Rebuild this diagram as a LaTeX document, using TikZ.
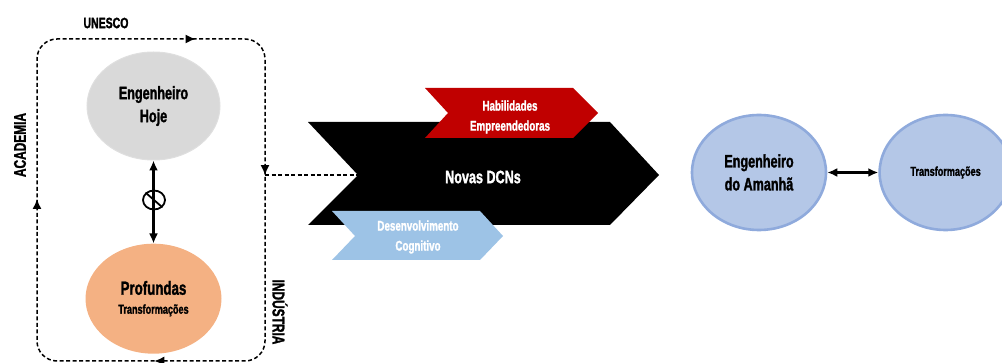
\documentclass[tikz,border=0pt]{standalone}
\usepackage{fontspec}
\newfontfamily\cond[FakeStretch=0.70,FakeBold=1.5]{Liberation Sans Bold}
\usepackage{tikz}
\usetikzlibrary{arrows.meta,positioning,shapes.geometric,decorations.markings}

\definecolor{hojegray}{HTML}{D9D9D9}
\definecolor{peach}{HTML}{F4B183}
\definecolor{skyblue}{HTML}{B4C7E7}
\definecolor{skyedge}{HTML}{8FAADC}
\definecolor{darkred}{HTML}{C00000}
\definecolor{paleblue}{HTML}{9DC3E6}

\tikzset{
  bubble/.style={ellipse,inner sep=0pt,align=center,font=\cond\fontsize{18}{23}\selectfont},
  lbl/.style={inner sep=0pt,font=\cond\fontsize{#1}{#1}\selectfont},
  chevtxt/.style={inner sep=0pt,align=center,text=white,font=\cond\fontsize{#1}{20}\selectfont},
  dashline/.style={line width=1.5pt,dash pattern=on 4pt off 2.5pt},
  twoway/.style={{Latex[length=10pt,width=9pt]}-{Latex[length=10pt,width=9pt]},line width=2.4pt}
}

\begin{document}
\begin{tikzpicture}[x=1pt,y=-1pt]
\useasboundingbox (0,0) rectangle (1002,363);

% left cycle
\draw[dashline,rounded corners=20pt,postaction={decorate},
  decoration={markings,
    mark=at position 31pt with {\arrow{Latex[length=10pt,width=9pt]}},
    mark=at position 341pt with {\arrow{Latex[length=10pt,width=9pt]}},
    mark=at position 538pt with {\arrow{Latex[length=10pt,width=9pt]}},
    mark=at position 826pt with {\arrow{Latex[length=10pt,width=9pt]}}}]
  (37,250) -- (37,39) -- (265,39) -- (265,361) -- (37,361) -- cycle;
\coordinate (rectR) at (265,175);

\node[lbl=15] (unesco) at (106,23) {UNESCO};
\node[lbl=17,rotate=90] (acad) at (20,145) {ACADEMIA};
\node[lbl=17,rotate=-90] (ind) at (280,312) {INDÚSTRIA};

\node[bubble,fill=hojegray,draw=gray!25,line width=1pt,minimum width=133pt,minimum height=108pt] (hoje) at (153.5,106) {Engenheiro\\Hoje};
\node[bubble,fill=peach,minimum width=136pt,minimum height=110pt,below=83pt of hoje] (prof)
  {\fontsize{19}{23}\selectfont Profundas\\[-4pt]\fontsize{13}{15}\selectfont Transformações};
\draw[twoway] (hoje) -- (prof);
\node[draw,ellipse,minimum width=22pt,minimum height=19pt,line width=1.8pt,inner sep=0pt] (nope) at (154,200) {};
\draw[line width=1.8pt] (nope.north west) -- (nope.south east);

% chevrons
\fill[black] (308,122) -- (610,122) -- (659,175) -- (610,225) -- (308,225) -- (358,175) -- cycle;
\coordinate (notch) at (358,175);
\node[chevtxt=18] (dcn) at (483,177) {Novas DCNs};
\fill[darkred] (425,88) -- (573,88) -- (598,113) -- (573,138) -- (425,138) -- (448,113) -- cycle;
\node[chevtxt=14] (habil) at (510,117) {Habilidades\\Empreendedoras};
\fill[paleblue] (332,211) -- (480,211) -- (503,236) -- (480,260) -- (332,260) -- (355,236) -- cycle;
\node[chevtxt=14] (desenv) at (418,237) {Desenvolvimento\\Cognitivo};
\draw[dashline] (rectR) -- (notch);

% right side
\node[bubble,fill=skyblue,draw=skyedge,line width=2.6pt,minimum width=134pt,minimum height=115pt] (amanha) at (759,172.5) {Engenheiro\\do Amanhã};
\node[bubble,fill=skyblue,draw=skyedge,line width=2.6pt,minimum width=132pt,minimum height=115pt,right=51pt of amanha,
  font=\cond\fontsize{13}{15}\selectfont] (transf) {Transformações};
\draw[twoway] (amanha) -- (transf);
\end{tikzpicture}
\end{document}
